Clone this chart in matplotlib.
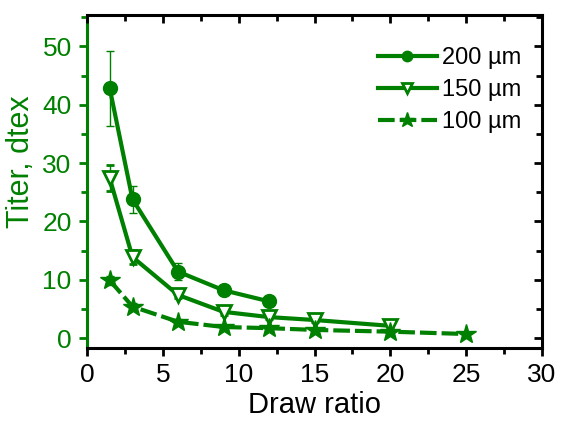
import matplotlib
matplotlib.use("Agg")
import matplotlib.pyplot as plt
from matplotlib.ticker import MultipleLocator

plt.rcParams['font.family'] = ['Liberation Sans', 'DejaVu Sans']

green = '#008000'

# data
x200 = [1.5, 3, 6, 9, 12]
y200 = [42.8, 23.8, 11.4, 8.2, 6.3]
e200 = [6.4, 2.3, 1.5, 0.5, 0.4]

x150 = [1.5, 3, 6, 9, 12, 15, 20]
y150 = [27.4, 13.9, 7.4, 4.5, 3.6, 3.1, 2.1]
e150 = [2.2, 1.2, 0.6, 0.5, 0.4, 0.3, 0.3]

x100 = [1.5, 3, 6, 9, 12, 15, 20, 25]
y100 = [9.9, 5.4, 2.8, 1.9, 1.7, 1.4, 1.1, 0.7]
e100 = [0.8, 0.6, 0.4, 0.3, 0.3, 0.2, 0.2, 0.1]

fig = plt.figure(figsize=(5.61, 4.23), dpi=100)
ax = fig.add_axes([87/561, 1 - 348/423, (542-87)/561, (348-15)/423])

ax.errorbar(x200, y200, yerr=e200, color=green, lw=3, marker='o', ms=10,
            ecolor=green, elinewidth=1, capsize=3, capthick=1, label='200 µm')
ax.errorbar(x150, y150, yerr=e150, color=green, lw=3, marker='v', ms=10.5,
            mfc='white', mew=2, ecolor=green, elinewidth=1, capsize=3, capthick=1,
            label='150 µm')
ax.errorbar(x100, y100, yerr=e100, color=green, lw=3, ls=(0, (4, 1.2)), marker='*', ms=15,
            ecolor=green, elinewidth=1, capsize=3, capthick=1, label='100 µm')

ax.set_xlim(0, 30)
ax.set_ylim(-1.7, 55.4)
ax.xaxis.set_major_locator(MultipleLocator(5))
ax.xaxis.set_minor_locator(MultipleLocator(2.5))
ax.yaxis.set_major_locator(MultipleLocator(10))
ax.yaxis.set_minor_locator(MultipleLocator(5))

for s in ax.spines.values():
    s.set_linewidth(2.2)
ax.spines['left'].set_color(green)

ax.tick_params(which='both', direction='out', top=False, right=False, width=2)
ax.tick_params(which='major', length=6, labelsize=19, pad=5)
ax.tick_params(which='minor', length=4)
ax.tick_params(axis='y', which='both', colors=green)

# inward ticks on the top and right spines
ax2 = ax.twinx()
ax2.set_ylim(ax.get_ylim())
ax2.yaxis.set_major_locator(MultipleLocator(10))
ax2.yaxis.set_minor_locator(MultipleLocator(5))
ax2.tick_params(which='both', direction='in', width=2, labelright=False)
ax2.tick_params(which='major', length=6)
ax2.tick_params(which='minor', length=4)
ax3 = ax.twiny()
ax3.set_xlim(ax.get_xlim())
ax3.xaxis.set_major_locator(MultipleLocator(5))
ax3.xaxis.set_minor_locator(MultipleLocator(2.5))
ax3.tick_params(which='both', direction='in', width=2, labeltop=False)
ax3.tick_params(which='major', length=6)
ax3.tick_params(which='minor', length=4)
for a in (ax2, ax3):
    for s in a.spines.values():
        s.set_visible(False)

ax.set_xlabel('Draw ratio', fontsize=21, labelpad=3)
ax.set_ylabel('Titer, dtex', fontsize=22, color=green)
ax.yaxis.set_label_coords(-0.112, 0.56)

handles, labels = ax.get_legend_handles_labels()
handles = [h[0] for h in handles]
ax.legend(handles, labels, loc='upper right', frameon=False, fontsize=17,
          handlelength=2.5, handletextpad=0.2, labelspacing=0.42, markerscale=0.75,
          bbox_to_anchor=(0.99, 0.953), borderaxespad=0.3)

fig.savefig('out.png', dpi=100)
